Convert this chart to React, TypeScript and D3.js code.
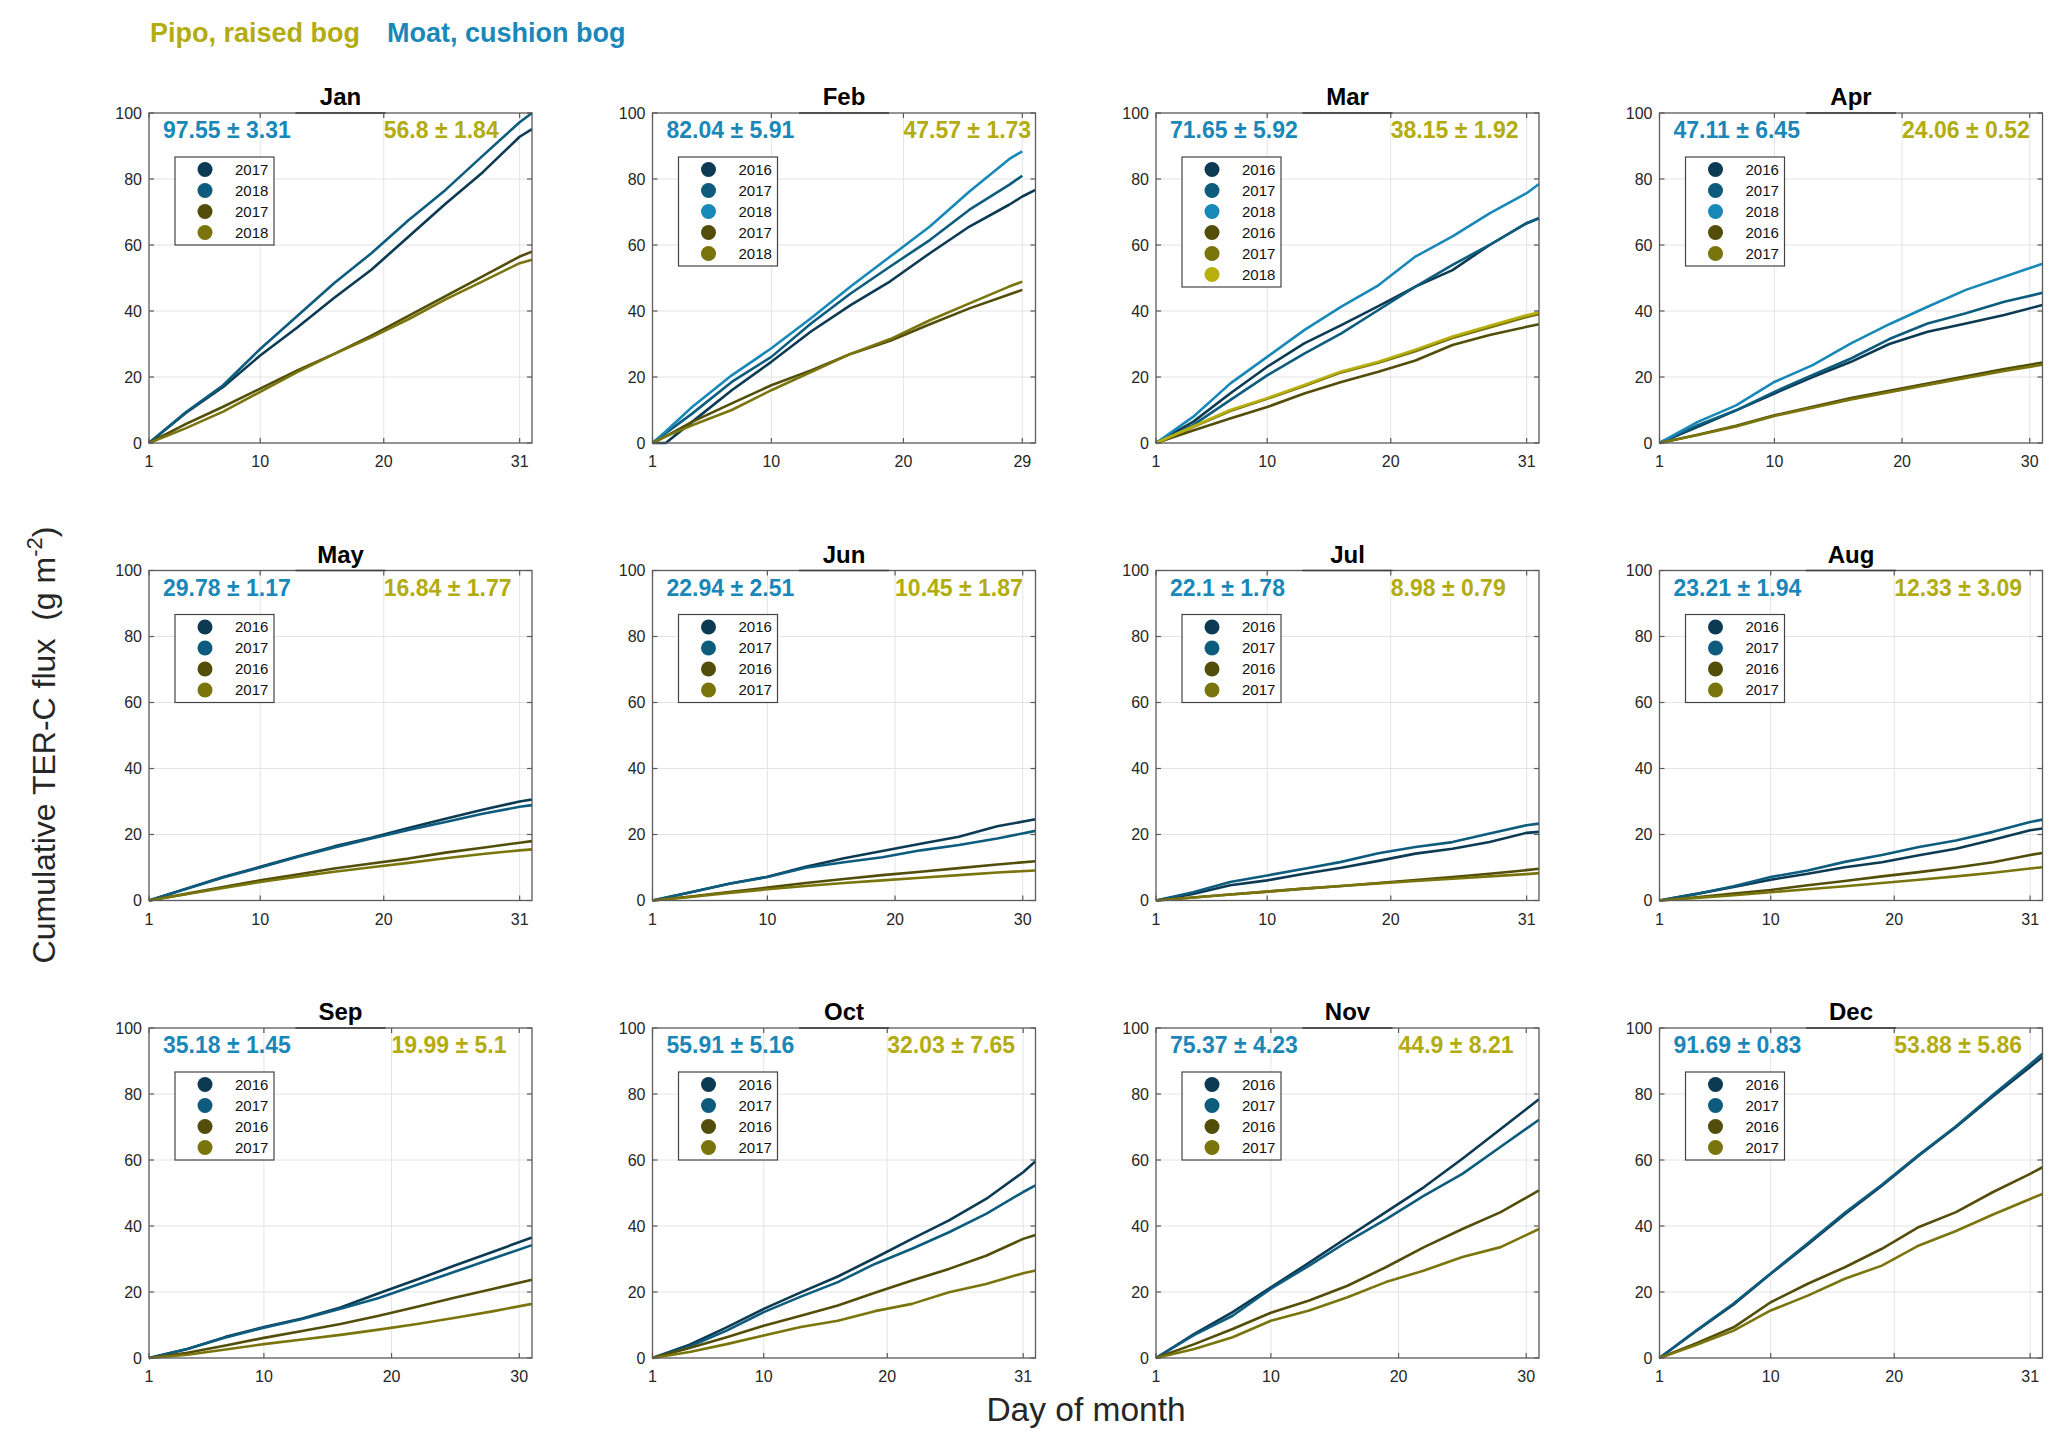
import * as d3 from 'd3';

// ---- data ----
const months = ['Jan', 'Feb', 'Mar', 'Apr', 'May', 'Jun', 'Jul', 'Aug', 'Sep', 'Oct', 'Nov', 'Dec'];
const axisEnd = [32, 30, 32, 31, 32, 31, 32, 32, 31, 32, 31, 32];
const dayTicks = [
  [1, 10, 20, 31], [1, 10, 20, 29], [1, 10, 20, 31], [1, 10, 20, 30],
  [1, 10, 20, 31], [1, 10, 20, 30], [1, 10, 20, 31], [1, 10, 20, 31],
  [1, 10, 20, 30], [1, 10, 20, 31], [1, 10, 20, 30], [1, 10, 20, 31],
];

const days31 = [1, 4, 7, 10, 13, 16, 19, 22, 25, 28, 31, 32];
const days30 = [1, 4, 7, 10, 13, 16, 19, 22, 25, 28, 31];
const daysFeb = [1, 2, 4, 7, 10, 13, 16, 19, 22, 25, 28, 29, 30];
const monthDays = [days31, daysFeb, days31, days30, days31, days30, days31, days31, days30, days31, days30, days31];

const moatYears = [
  ['2017', '2018'], ['2016', '2017', '2018'], ['2016', '2017', '2018'], ['2016', '2017', '2018'],
  ['2016', '2017'], ['2016', '2017'], ['2016', '2017'], ['2016', '2017'],
  ['2016', '2017'], ['2016', '2017'], ['2016', '2017'], ['2016', '2017'],
];
const pipoYears = [
  ['2017', '2018'], ['2017', '2018'], ['2016', '2017', '2018'], ['2016', '2017'],
  ['2016', '2017'], ['2016', '2017'], ['2016', '2017'], ['2016', '2017'],
  ['2016', '2017'], ['2016', '2017'], ['2016', '2017'], ['2016', '2017'],
];

const moatMean = [97.55, 82.04, 71.65, 47.11, 29.78, 22.94, 22.1, 23.21, 35.18, 55.91, 75.37, 91.69];
const moatSd = [3.31, 5.91, 5.92, 6.45, 1.17, 2.51, 1.78, 1.94, 1.45, 5.16, 4.23, 0.83];
const pipoMean = [56.8, 47.57, 38.15, 24.06, 16.84, 10.45, 8.98, 12.33, 19.99, 32.03, 44.9, 53.88];
const pipoSd = [1.84, 1.73, 1.92, 0.52, 1.77, 1.87, 0.79, 3.09, 5.1, 7.65, 8.21, 5.86];

const janMoat = [
  [0, 9.2, 17.0, 26.5, 35.0, 44.0, 52.5, 62.5, 72.5, 82.0, 92.8, 95.1],
  [0, 9.4, 17.5, 28.5, 38.5, 48.5, 57.5, 67.5, 76.7, 87.0, 97.2, 100.0],
];
const janPipo = [
  [0, 5.8, 11.0, 16.5, 22.0, 27.0, 32.5, 38.5, 44.5, 50.5, 56.5, 58.0],
  [0, 4.5, 9.5, 15.5, 21.5, 27.0, 32.0, 37.5, 43.5, 49.0, 54.5, 55.5],
];
const febMoat = [
  [0, 0, 6.4, 16.0, 24.6, 33.8, 41.8, 49.0, 57.5, 65.6, 72.2, 74.7, 76.7],
  [0, 3.0, 8.9, 18.5, 26.1, 36.2, 45.3, 53.5, 61.5, 70.7, 78.2, 81.0],
  [0, 3.5, 10.9, 20.5, 28.7, 37.8, 47.4, 56.5, 65.6, 76.2, 86.0, 88.4],
];
const febPipo = [
  [0, 2.0, 6.4, 12.0, 17.5, 22.0, 27.0, 31.0, 36.0, 40.8, 45.0, 46.4],
  [0, 2.0, 5.4, 10.0, 16.0, 21.5, 27.0, 31.5, 37.2, 42.3, 47.4, 48.9],
];
const marMoat = [
  [0, 6.4, 15.0, 23.1, 30.2, 35.7, 41.5, 47.4, 52.4, 60.0, 66.6, 68.1],
  [0, 5.4, 13.0, 20.5, 27.1, 33.2, 40.3, 47.4, 54.0, 60.0, 66.6, 68.1],
  [0, 7.9, 18.0, 26.1, 34.2, 41.3, 47.8, 56.5, 62.6, 69.6, 75.7, 78.5],
];
const marPipo = [
  [0, 3.8, 7.4, 10.9, 15.0, 18.5, 21.6, 25.0, 29.7, 32.7, 35.2, 36.0],
  [0, 4.8, 9.7, 13.4, 17.3, 21.4, 24.3, 27.8, 31.8, 35.0, 38.2, 39.0],
  [0, 5.0, 10.0, 13.6, 17.6, 21.7, 24.6, 28.3, 32.3, 35.5, 38.7, 39.6],
];
const aprMoat = [
  [0, 4.9, 9.9, 15.0, 20.0, 24.6, 30.0, 33.7, 36.2, 38.8, 41.8],
  [0, 5.4, 9.9, 15.5, 20.6, 25.6, 31.5, 36.2, 39.3, 42.8, 45.5],
  [0, 6.4, 11.4, 18.5, 23.6, 30.2, 36.0, 41.3, 46.4, 50.4, 54.3],
];
const aprPipo = [
  [0, 2.5, 5.2, 8.4, 11.0, 13.6, 15.8, 18.0, 20.2, 22.4, 24.4],
  [0, 2.4, 5.0, 8.2, 10.7, 13.2, 15.4, 17.6, 19.7, 21.8, 23.7],
];
const mayMoat = [
  [0, 3.6, 7.1, 10.2, 13.3, 16.4, 19.0, 22.0, 24.8, 27.5, 30.0, 30.6],
  [0, 3.5, 7.0, 10.0, 13.2, 16.1, 18.8, 21.4, 23.8, 26.3, 28.4, 28.9],
];
const mayPipo = [
  [0, 2.0, 4.1, 6.1, 7.9, 9.7, 11.2, 12.7, 14.5, 16.0, 17.5, 18.0],
  [0, 1.9, 3.8, 5.6, 7.2, 8.7, 10.1, 11.4, 12.8, 14.1, 15.2, 15.5],
];
const junMoat = [
  [0, 2.5, 5.1, 7.2, 10.2, 12.8, 15.0, 17.2, 19.3, 22.5, 24.6],
  [0, 2.5, 5.1, 7.1, 9.9, 11.6, 13.1, 15.2, 16.8, 18.8, 21.1],
];
const junPipo = [
  [0, 1.2, 2.6, 3.9, 5.3, 6.5, 7.7, 8.7, 9.8, 10.9, 11.9],
  [0, 1.1, 2.3, 3.4, 4.4, 5.3, 6.1, 6.9, 7.7, 8.5, 9.1],
];
const julMoat = [
  [0, 2.0, 4.6, 6.1, 8.1, 9.9, 12.0, 14.2, 15.7, 17.7, 20.5, 20.8],
  [0, 2.5, 5.6, 7.6, 9.6, 11.7, 14.3, 16.2, 17.7, 20.3, 22.8, 23.3],
];
const julPipo = [
  [0, 0.9, 1.8, 2.7, 3.6, 4.4, 5.3, 6.2, 7.1, 8.1, 9.2, 9.6],
  [0, 0.9, 1.8, 2.7, 3.6, 4.4, 5.2, 5.9, 6.6, 7.3, 8.0, 8.3],
];
const augMoat = [
  [0, 2.0, 4.1, 6.3, 8.1, 10.1, 11.6, 13.7, 15.7, 18.4, 21.3, 21.8],
  [0, 2.0, 4.3, 7.1, 9.1, 11.7, 13.8, 16.2, 18.2, 20.8, 23.8, 24.5],
];
const augPipo = [
  [0, 1.0, 2.1, 3.2, 4.6, 5.9, 7.3, 8.6, 10.0, 11.6, 13.8, 14.4],
  [0, 0.8, 1.6, 2.5, 3.4, 4.3, 5.3, 6.3, 7.3, 8.4, 9.7, 10.1],
];
const sepMoat = [
  [0, 2.7, 6.4, 9.4, 12.0, 15.3, 19.6, 23.8, 28.1, 32.3, 36.5],
  [0, 2.7, 6.2, 9.2, 11.8, 14.9, 18.2, 22.2, 26.2, 30.2, 34.2],
];
const sepPipo = [
  [0, 1.6, 3.8, 6.1, 8.2, 10.3, 12.8, 15.5, 18.3, 21.0, 23.7],
  [0, 1.0, 2.6, 4.2, 5.6, 7.0, 8.6, 10.3, 12.2, 14.2, 16.4],
];
const octMoat = [
  [0, 4.0, 9.3, 14.9, 19.9, 24.7, 30.3, 36.1, 41.7, 48.2, 56.3, 59.6],
  [0, 3.5, 8.3, 13.9, 18.6, 23.0, 28.5, 33.1, 38.1, 43.7, 50.3, 52.3],
];
const octPipo = [
  [0, 3.0, 6.3, 9.8, 12.8, 15.9, 19.8, 23.5, 27.0, 31.0, 36.1, 37.3],
  [0, 1.8, 4.2, 6.8, 9.4, 11.3, 14.2, 16.4, 19.9, 22.4, 25.7, 26.5],
];
const novMoat = [
  [0, 7.3, 13.9, 21.4, 28.9, 36.6, 44.2, 51.8, 60.4, 69.4, 78.4],
  [0, 7.0, 12.8, 21.0, 28.0, 35.3, 42.0, 49.2, 55.8, 64.0, 72.2],
];
const novPipo = [
  [0, 4.2, 8.8, 13.7, 17.4, 21.9, 27.5, 33.6, 39.1, 44.2, 50.8],
  [0, 2.7, 6.3, 11.3, 14.4, 18.4, 23.0, 26.5, 30.6, 33.6, 39.1],
];
const decMoat = [
  [0, 8.3, 16.2, 25.5, 34.4, 43.6, 52.2, 61.4, 70.0, 79.3, 88.2, 91.2],
  [0, 8.4, 16.5, 25.6, 34.8, 44.0, 52.5, 61.6, 70.2, 79.8, 89.0, 92.2],
];
const decPipo = [
  [0, 4.5, 9.3, 16.9, 22.5, 27.5, 33.1, 39.7, 44.2, 50.3, 55.8, 57.8],
  [0, 4.0, 8.3, 14.4, 18.9, 24.0, 28.0, 34.1, 38.5, 43.5, 48.2, 49.7],
];

const moatSeries = [janMoat, febMoat, marMoat, aprMoat, mayMoat, junMoat, julMoat, augMoat, sepMoat, octMoat, novMoat, decMoat];
const pipoSeries = [janPipo, febPipo, marPipo, aprPipo, mayPipo, junPipo, julPipo, augPipo, sepPipo, octPipo, novPipo, decPipo];

// ---- styling ----
const moatColors = ['#0c3a53', '#0d5c7e', '#1788b7'];
const pipoColors = ['#524d08', '#7a740d', '#b6af0d'];
const moatText = '#1a87b9';
const pipoText = '#b3ac10';
const FONT = "'Liberation Sans', Arial, Helvetica, sans-serif";
const INK = '#262626';

const W = 2067;
const H = 1453;
const panelW = 383;
const panelH = 330;
const colX = (c: number) => 149 + c * 503.5;
const rowY = (r: number) => 113 + r * 457.5;

function Panel({ idx }: { idx: number }) {
  const left = colX(idx % 4);
  const top = rowY(Math.floor(idx / 4));
  const days = monthDays[idx];

  const x = d3.scaleLinear().domain([1, axisEnd[idx]]).range([0, panelW]);
  const y = d3.scaleLinear().domain([0, 100]).range([panelH, 0]);
  const yTicks = y.ticks(5);
  const xTicks = dayTicks[idx];

  const line = d3
    .line<number>()
    .x((_, i) => x(days[i]))
    .y((v) => y(v));

  const legend = [
    ...moatYears[idx].map((yr, i) => ({ label: yr, color: moatColors[i] })),
    ...pipoYears[idx].map((yr, i) => ({ label: yr, color: pipoColors[i] })),
  ];
  const rowH = 21;
  const boxX = 26;
  const boxY = 44;
  const boxW = 99;
  const boxH = legend.length * rowH + 4;
  const tick = 5;

  return (
    <g transform={`translate(${left},${top})`} fontFamily={FONT}>
      <rect width={panelW} height={panelH} fill="#fff" />
      {yTicks.filter((t) => t > 0 && t < 100).map((t) => (
        <line key={`gy${t}`} x1={0} x2={panelW} y1={y(t)} y2={y(t)} stroke="#e4e4e4" strokeWidth={1} />
      ))}
      {xTicks.filter((t) => t > 1).map((t) => (
        <line key={`gx${t}`} x1={x(t)} x2={x(t)} y1={0} y2={panelH} stroke="#e4e4e4" strokeWidth={1} />
      ))}

      {moatSeries[idx].map((s, i) => (
        <path key={`m${i}`} d={line(s) ?? ''} fill="none" stroke={moatColors[i]} strokeWidth={2.6} strokeLinejoin="round" />
      ))}
      {pipoSeries[idx].map((s, i) => (
        <path key={`p${i}`} d={line(s) ?? ''} fill="none" stroke={pipoColors[i]} strokeWidth={2.6} strokeLinejoin="round" />
      ))}

      {/* box + inward ticks */}
      <rect width={panelW} height={panelH} fill="none" stroke="#5a5a5a" strokeWidth={1.3} />
      <line x1={panelW / 2 - 45} x2={panelW / 2 + 45} y1={0} y2={0} stroke="#3a3a3a" strokeWidth={1.4} />
      {yTicks.map((t) => (
        <g key={`ty${t}`}>
          <line x1={0} x2={tick} y1={y(t)} y2={y(t)} stroke="#5a5a5a" strokeWidth={1.2} />
          <line x1={panelW - tick} x2={panelW} y1={y(t)} y2={y(t)} stroke="#5a5a5a" strokeWidth={1.2} />
          <text x={-7} y={y(t)} dy="0.35em" textAnchor="end" fontSize={16} fill={INK}>
            {t}
          </text>
        </g>
      ))}
      {xTicks.map((t) => (
        <g key={`tx${t}`}>
          <line x1={x(t)} x2={x(t)} y1={panelH} y2={panelH - tick} stroke="#5a5a5a" strokeWidth={1.2} />
          <line x1={x(t)} x2={x(t)} y1={0} y2={tick} stroke="#5a5a5a" strokeWidth={1.2} />
          <text x={x(t)} y={panelH + 24} textAnchor="middle" fontSize={16} fill={INK}>
            {t}
          </text>
        </g>
      ))}

      <text x={panelW / 2} y={-8} textAnchor="middle" fontSize={24} fontWeight="bold" fill="#000">
        {months[idx]}
      </text>

      <text x={14} y={25} fontSize={23} fontWeight="bold" fill={moatText}>
        {`${moatMean[idx]} ± ${moatSd[idx]}`}
      </text>
      <text x={x(20)} y={25} fontSize={23} fontWeight="bold" fill={pipoText}>
        {`${pipoMean[idx]} ± ${pipoSd[idx]}`}
      </text>

      <g transform={`translate(${boxX},${boxY})`}>
        <rect width={boxW} height={boxH} fill="#fff" stroke="#444" strokeWidth={1.2} />
        {legend.map((e, i) => (
          <g key={`lg${i}`} transform={`translate(0,${2 + rowH * i + rowH / 2})`}>
            <circle cx={30} cy={0} r={7.5} fill={e.color} />
            <text x={60} y={0} dy="0.36em" fontSize={15} fill="#111">
              {e.label}
            </text>
          </g>
        ))}
      </g>
    </g>
  );
}

export default function App() {
  return (
    <svg
      width={W}
      height={H}
      viewBox={`0 0 ${W} ${H}`}
      style={{ position: 'absolute', left: 0, top: 0, background: '#fff' }}
    >
      <rect width={W} height={H} fill="#fff" />
      <text x={150} y={42} fontFamily={FONT} fontSize={27} fontWeight="bold" fill={pipoText}>
        Pipo, raised bog
      </text>
      <text x={387} y={42} fontFamily={FONT} fontSize={27} fontWeight="bold" fill={moatText}>
        Moat, cushion bog
      </text>

      {months.map((m, i) => (
        <Panel key={m} idx={i} />
      ))}

      <text
        transform="translate(55,745) rotate(-90)"
        textAnchor="middle"
        fontFamily={FONT}
        fontSize={32}
        fill={INK}
      >
        Cumulative TER-C flux{'\u00a0\u00a0'}(g m
        <tspan dy={-13} fontSize={22}>-2</tspan>
        <tspan dy={13}>)</tspan>
      </text>
      <text x={1086} y={1421} textAnchor="middle" fontFamily={FONT} fontSize={33.5} fill={INK}>
        Day of month
      </text>
    </svg>
  );
}
